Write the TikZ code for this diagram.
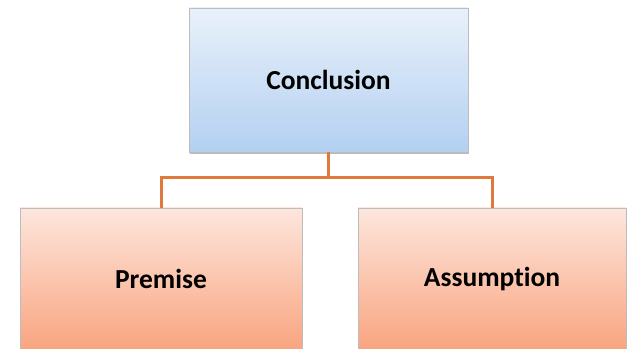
\documentclass[tikz,border=0pt]{standalone}
\usepackage{fontspec}
\setmainfont{Carlito}[Ligatures=CommonOff]
\usetikzlibrary{shadows}
\definecolor{bluetop}{HTML}{E9F1FA}
\definecolor{bluebot}{HTML}{B3D0F1}
\definecolor{peachtop}{HTML}{FDE6DD}
\definecolor{peachbot}{HTML}{F9A47F}
\definecolor{conn}{HTML}{E07A3C}
\definecolor{edge}{HTML}{BDBDBD}
\tikzset{
  boxbase/.style={rectangle, draw=edge, line width=0.8pt, inner sep=0pt,
    font=\fontsize{27.5}{32}\selectfont\bfseries, text=black},
  topbox/.style={boxbase, top color=bluetop, bottom color=bluebot,
    minimum width=279pt, minimum height=144pt,
    drop shadow={shadow xshift=1pt, shadow yshift=-2pt, fill=black!45, opacity=0.6}},
  lowbox/.style={boxbase, top color=peachtop, bottom color=peachbot,
    minimum width=282pt, minimum height=142pt},
  link/.style={draw=conn, line width=3pt}
}
\begin{document}
\begin{tikzpicture}[x=1pt,y=1pt]
\useasboundingbox[fill=white] (0,0) rectangle (629,348);
\begin{scope}
\clip (0,0) rectangle (629,348);
\node[topbox] (concl) at (328.5,268) {Conclusion};
\node[lowbox] (prem) at (161,69) {Premise};
\node[lowbox, minimum width=268pt] (assum) at (492,69) {Assumption};
\end{scope}
\coordinate (mid) at (328.5,170);
\draw[link] (concl.south) -- (mid);
\draw[link] (prem.north) |- (mid) -| (assum.north);
\end{tikzpicture}
\end{document}
